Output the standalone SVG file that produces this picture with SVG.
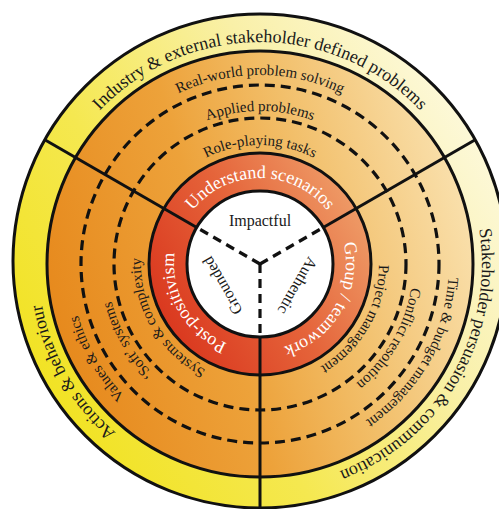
<svg xmlns="http://www.w3.org/2000/svg" width="499" height="509" viewBox="0 0 499 509">
<style>
.ring{stroke:#111;stroke-width:3}
.dash{fill:none;stroke:#111;stroke-width:3.2;stroke-dasharray:10 6}
.div{stroke:#111;stroke-width:3;fill:none}
.idash{stroke:#111;stroke-width:3.2;stroke-dasharray:9 6;fill:none}
.ty{font-family:"Liberation Serif","Times New Roman",serif;font-size:18px;fill:#1a1a1a}
.to{font-family:"Liberation Serif","Times New Roman",serif;font-size:15px;fill:#1a1a1a}
.tr{font-family:"Liberation Serif","Times New Roman",serif;font-size:18px;fill:#ffffff}
.tc{font-family:"Liberation Serif","Times New Roman",serif;font-size:16px;fill:#1a1a1a;text-anchor:middle}
</style>
<defs>
<linearGradient id="gY" gradientUnits="userSpaceOnUse" x1="30" y1="400" x2="480" y2="120">
<stop offset="0" stop-color="#f1e21f"/><stop offset="0.35" stop-color="#f5e850"/><stop offset="0.7" stop-color="#f9f0a8"/><stop offset="1" stop-color="#fdf9dc"/>
</linearGradient>
<linearGradient id="gO" gradientUnits="userSpaceOnUse" x1="40" y1="330" x2="480" y2="200">
<stop offset="0" stop-color="#e6871a"/><stop offset="0.4" stop-color="#eda23a"/><stop offset="0.65" stop-color="#f2bf6a"/><stop offset="1" stop-color="#fae3b2"/>
</linearGradient>
<linearGradient id="gR" gradientUnits="userSpaceOnUse" x1="150" y1="320" x2="370" y2="190">
<stop offset="0" stop-color="#d9341c"/><stop offset="0.5" stop-color="#e5643a"/><stop offset="1" stop-color="#f0a46e"/>
</linearGradient>
<path id="yT" d="M38.85,244.65 A222,222 0 0 1 481.15,244.65"/>
<path id="yR" d="M387.33,82.15 A222,222 0 0 1 166.18,465.20"/>
<path id="yL" d="M353.82,465.20 A222,222 0 0 1 132.67,82.15"/>
<path id="o1T" d="M71.72,247.53 A189,189 0 0 1 448.28,247.53"/>
<path id="o1R" d="M368.41,109.18 A189,189 0 0 1 180.13,435.29"/>
<path id="o1L" d="M339.87,435.29 A189,189 0 0 1 151.59,109.18"/>
<path id="o2T" d="M107.58,250.66 A153,153 0 0 1 412.42,250.66"/>
<path id="o2R" d="M347.76,138.67 A153,153 0 0 1 195.34,402.67"/>
<path id="o2L" d="M324.66,402.67 A153,153 0 0 1 172.24,138.67"/>
<path id="o3T" d="M141.45,253.63 A119,119 0 0 1 378.55,253.63"/>
<path id="o3R" d="M328.26,166.52 A119,119 0 0 1 209.71,371.85"/>
<path id="o3L" d="M310.29,371.85 A119,119 0 0 1 191.74,166.52"/>
<path id="rT" d="M174.33,256.50 A86,86 0 0 1 345.67,256.50"/>
<path id="rR" d="M309.33,193.55 A86,86 0 0 1 223.65,341.94"/>
<path id="rL" d="M296.35,341.94 A86,86 0 0 1 210.67,193.55"/>
</defs>

<g id="outer-ring">
<circle class="ring" cx="260" cy="261" r="247" fill="url(#gY)"/>
<text class="ty"><textPath href="#yT" startOffset="50%" text-anchor="middle">Industry &amp; external stakeholder defined problems</textPath></text>
<text class="ty"><textPath href="#yR" startOffset="50%" text-anchor="middle">Stakeholder persuasion &amp; communication</textPath></text>
<text class="ty"><textPath href="#yL" startOffset="50%" text-anchor="middle">Actions &amp; behaviour</textPath></text>
</g>

<g id="middle-ring">
<circle class="ring" cx="260" cy="264" r="213" fill="url(#gO)"/>
<circle class="dash" cx="260" cy="264" r="179"/>
<circle class="dash" cx="260" cy="264" r="146"/>
<text class="to"><textPath href="#o1T" startOffset="50%" text-anchor="middle">Real-world problem solving</textPath></text>
<text class="to"><textPath href="#o2T" startOffset="50%" text-anchor="middle">Applied problems</textPath></text>
<text class="to"><textPath href="#o3T" startOffset="50%" text-anchor="middle">Role-playing tasks</textPath></text>
<text class="to"><textPath href="#o1R" startOffset="50%" text-anchor="middle">Time &amp; budget management</textPath></text>
<text class="to"><textPath href="#o2R" startOffset="50%" text-anchor="middle">Conflict resolution</textPath></text>
<text class="to"><textPath href="#o3R" startOffset="50%" text-anchor="middle">Project management</textPath></text>
<text class="to"><textPath href="#o1L" startOffset="50%" text-anchor="middle">Values &amp; ethics</textPath></text>
<text class="to"><textPath href="#o2L" startOffset="50%" text-anchor="middle">‘Soft’ systems</textPath></text>
<text class="to"><textPath href="#o3L" startOffset="50%" text-anchor="middle">Systems &amp; complexity</textPath></text>
</g>

<g id="inner-ring">
<circle class="ring" cx="260" cy="264" r="111" fill="url(#gR)"/>
<text class="tr"><textPath href="#rT" startOffset="50%" text-anchor="middle">Understand scenarios</textPath></text>
<text class="tr"><textPath href="#rR" startOffset="50%" text-anchor="middle">Group / teamwork</textPath></text>
<text class="tr"><textPath href="#rL" startOffset="50%" text-anchor="middle">Post-positivism</textPath></text>
</g>

<g id="core">
<circle class="ring" cx="260" cy="264" r="73" fill="#ffffff"/>
<text class="tc" x="260" y="226">Impactful</text>
<text class="tc" transform="translate(292.9,283) rotate(120)">Authentic</text>
<text class="tc" transform="translate(227.1,283) rotate(240)">Grounded</text>
</g>

<g id="connectors">
<line class="div" x1="196.78" y1="227.5" x2="45.2" y2="140"/>
<line class="div" x1="323.22" y1="227.5" x2="474.8" y2="140"/>
<line class="div" x1="260" y1="337" x2="260" y2="509"/>
<line class="idash" x1="260" y1="264" x2="196.78" y2="227.5"/>
<line class="idash" x1="260" y1="264" x2="323.22" y2="227.5"/>
<line class="idash" x1="260" y1="264" x2="260" y2="337"/>
</g>
</svg>
